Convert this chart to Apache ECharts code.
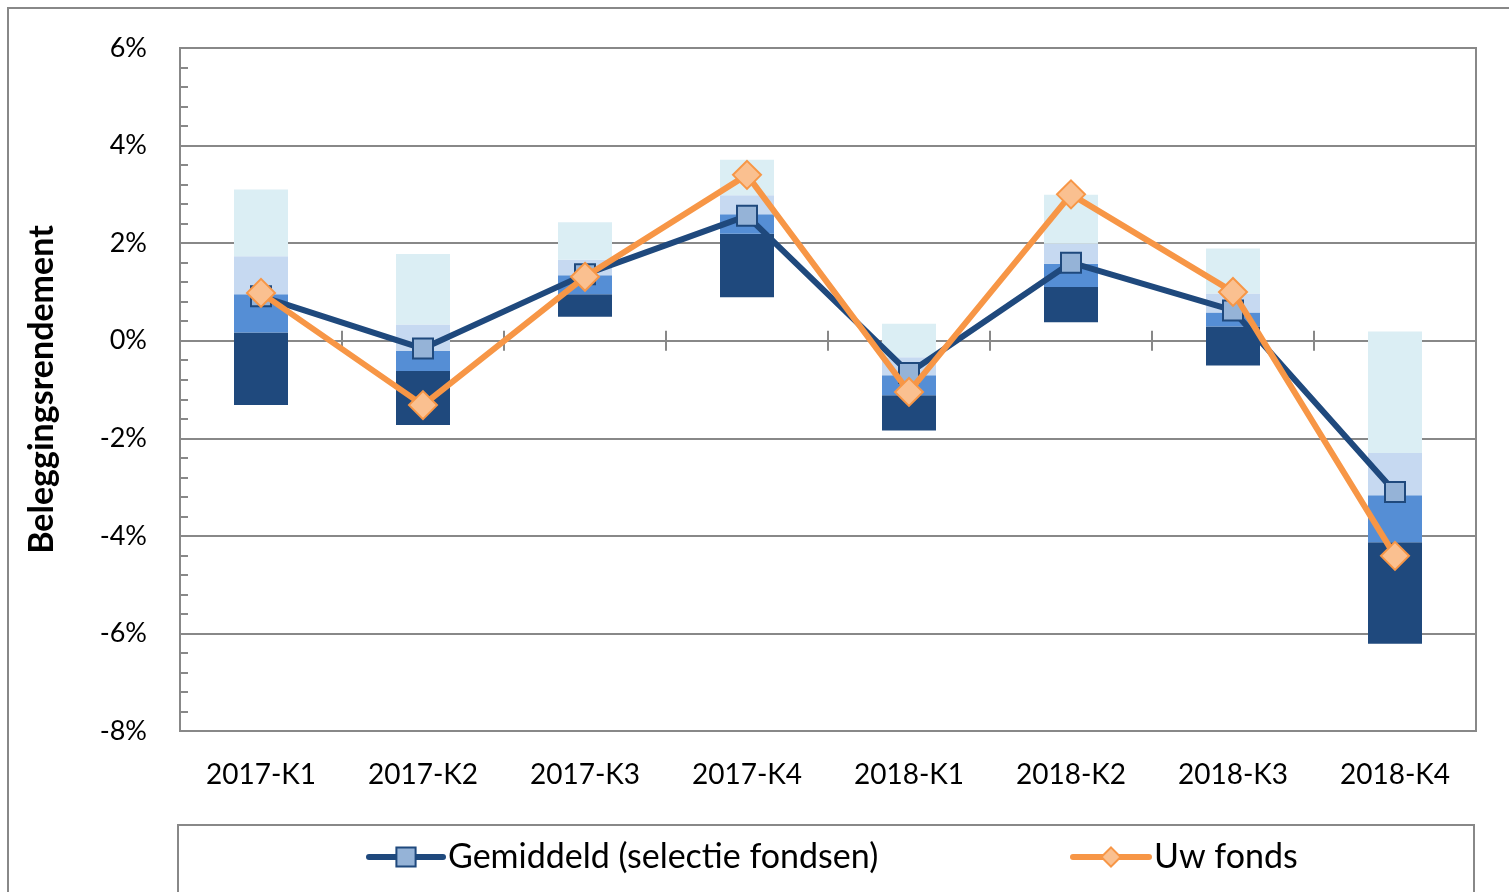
<!DOCTYPE html>
<html>
<head>
<meta charset="utf-8">
<script src="https://cdn.jsdelivr.net/npm/echarts@6/dist/echarts.min.js"></script>
<style>
  html, body { margin: 0; padding: 0; background: #fff; }
  #chart { width: 1509px; height: 892px; }
</style>
</head>
<body>
<div id="chart"></div>
<script>
// kwartalen
var categories = ['2017-K1', '2017-K2', '2017-K3', '2017-K4', '2018-K1', '2018-K2', '2018-K3', '2018-K4'];

// spreiding selectie fondsen (in %)
var minimum   = [-1.32, -1.73, 0.49, 0.89, -1.84, 0.38, -0.51, -6.21];
var kwartiel1 = [0.17, -0.62, 0.95, 2.19, -1.12, 1.10, 0.29, -4.13];
var mediaan   = [0.95, -0.21, 1.34, 2.59, -0.71, 1.58, 0.58, -3.17];
var kwartiel3 = [1.73, 0.33, 1.66, 2.98, -0.34, 1.99, 0.97, -2.30];
var maximum   = [3.10, 1.78, 2.43, 3.71, 0.35, 2.99, 1.89, 0.19];

// lijnen
var gemiddeld = [0.91, -0.16, 1.36, 2.56, -0.66, 1.60, 0.62, -3.10];
var uwFonds   = [0.98, -1.32, 1.31, 3.40, -1.05, 3.00, 1.00, -4.41];

var yMin = -8, yMax = 6, yStep = 2;

var FONT = 'Lato';
var GRAY = '#888888';
var plotBox = { left: 180, right: 33, top: 48, bottom: 161 };

function diff(top, bottom) {
  return top.map(function (v, i) { return +(v - bottom[i]).toFixed(4); });
}

function boxPart(name, data, color) {
  return {
    name: name,
    type: 'bar',
    stack: 'box',
    stackStrategy: 'all',
    barWidth: 54,
    silent: true,
    itemStyle: { color: color },
    data: data
  };
}

// x-as op 0% met streepjes naar beide kanten (tweede grid voor de bovenkant)
function zeroAxis(gridIndex, inside) {
  return {
    gridIndex: gridIndex,
    type: 'category',
    data: categories,
    boundaryGap: true,
    axisLine: { show: true, onZero: true, lineStyle: { color: GRAY, width: 2 } },
    axisTick: { show: true, inside: inside, length: 10, lineStyle: { color: GRAY, width: 2 } },
    axisLabel: { show: false },
    splitLine: { show: false }
  };
}

function legendItem(name, left, width) {
  return {
    data: [name],
    left: left,
    top: 840,
    padding: 0,
    itemWidth: width,
    itemHeight: 24,
    lineStyle: { width: 6, cap: 'round' },
    textStyle: { fontSize: 34, color: '#000', fontFamily: FONT, lineHeight: 34 }
  };
}

var chart = echarts.init(document.getElementById('chart'));

chart.setOption({
  animation: false,
  textStyle: { fontFamily: FONT },
  grid: [
    Object.assign({ show: true, borderColor: GRAY, borderWidth: 2 }, plotBox),
    Object.assign({ show: false }, plotBox)
  ],
  graphic: [
    {
      type: 'rect',
      shape: { x: 8, y: 8, width: 1560, height: 940 },
      style: { fill: 'none', stroke: GRAY, lineWidth: 2 },
      silent: true
    },
    {
      type: 'rect',
      shape: { x: 178, y: 825, width: 1296, height: 120 },
      style: { fill: 'none', stroke: GRAY, lineWidth: 2 },
      silent: true
    }
  ],
  legend: [
    legendItem('Gemiddeld (selectie fondsen)', 366, 74),
    legendItem('Uw fonds', 1070, 76)
  ],
  xAxis: [
    zeroAxis(0, false),
    {
      gridIndex: 0,
      type: 'category',
      data: categories,
      position: 'bottom',
      boundaryGap: true,
      axisLine: { show: false, onZero: false },
      axisTick: { show: false },
      axisLabel: { interval: 0, fontSize: 28, color: '#000', fontFamily: FONT, margin: 30 },
      splitLine: { show: false }
    },
    zeroAxis(1, true)
  ],
  yAxis: [
    {
      gridIndex: 0,
      type: 'value',
      min: yMin,
      max: yMax,
      interval: yStep,
      name: 'Beleggingsrendement',
      nameLocation: 'middle',
      nameGap: 121,
      nameTextStyle: { fontSize: 34, fontWeight: 'bold', color: '#000', fontFamily: FONT },
      axisLine: { show: true, lineStyle: { color: GRAY, width: 2 } },
      axisTick: { show: true, inside: true, length: 8, lineStyle: { color: GRAY, width: 2 } },
      minorTick: { show: true, splitNumber: 5, length: 8, lineStyle: { color: GRAY, width: 2 } },
      axisLabel: { formatter: '{value}%', fontSize: 27, color: '#000', fontFamily: FONT, margin: 33 },
      splitLine: { show: true, lineStyle: { color: GRAY, width: 2 } }
    },
    {
      gridIndex: 1,
      type: 'value',
      min: yMin,
      max: yMax,
      interval: yStep,
      axisLine: { show: false },
      axisTick: { show: false },
      axisLabel: { show: false },
      splitLine: { show: false }
    }
  ],
  series: [
    boxPart('basis', minimum, 'rgba(0,0,0,0)'),
    boxPart('min-k1', diff(kwartiel1, minimum), '#1F497D'),
    boxPart('k1-med', diff(mediaan, kwartiel1), '#558ED5'),
    boxPart('med-k3', diff(kwartiel3, mediaan), '#C6D9F1'),
    boxPart('k3-max', diff(maximum, kwartiel3), '#DBEEF4'),
    {
      name: 'Gemiddeld (selectie fondsen)',
      type: 'line',
      z: 5,
      data: gemiddeld,
      symbol: 'rect',
      symbolSize: 20,
      lineStyle: { color: '#1F497D', width: 6 },
      itemStyle: { color: '#95B3D7', borderColor: '#1F497D', borderWidth: 2 }
    },
    {
      name: 'Uw fonds',
      type: 'line',
      z: 6,
      data: uwFonds,
      symbol: 'diamond',
      symbolSize: 28,
      lineStyle: { color: '#F79646', width: 6 },
      itemStyle: { color: '#FAC090', borderColor: '#F79646', borderWidth: 2 }
    }
  ]
});
</script>
</body>
</html>
